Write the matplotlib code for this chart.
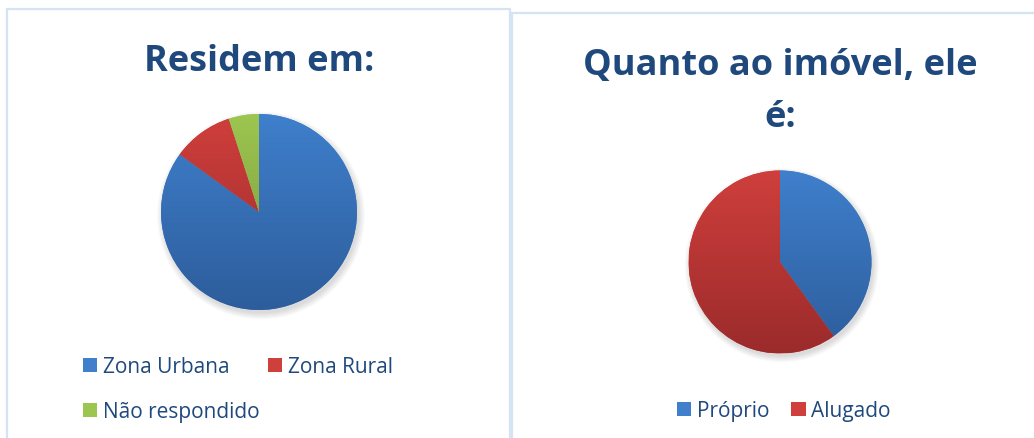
import numpy as np
import matplotlib
matplotlib.use("Agg")
import matplotlib.pyplot as plt
from matplotlib.patches import Rectangle, Circle, Patch
from matplotlib.colors import LinearSegmentedColormap

plt.rcParams['font.family'] = 'Open Sans'

# dados
residencia_labels = ['Zona Urbana', 'Zona Rural', 'Não respondido']
residencia_valores = [85, 10, 5]

imovel_labels = ['Próprio', 'Alugado']
imovel_valores = [40, 60]

# cores (topo, base) do degradê estilo Excel
azul = ('#3F7FCC', '#2D5D9B')
vermelho = ('#CF3F3C', '#9B2B2B')
verde = ('#9DC650', '#76933B')

cor_titulo = '#1F497D'
cor_borda = '#D6E3F4'

W, H = 1034, 439
fig = plt.figure(figsize=(W / 100, H / 100), dpi=100)
fig.patch.set_facecolor('white')


def fx(x):
    return x / W


def fy(y):
    return 1 - y / H


# molduras dos dois gráficos
fig.add_artist(Rectangle((fx(7), fy(445)), fx(510 - 7), (445 - 10) / H,
                         transform=fig.transFigure, fill=False,
                         edgecolor=cor_borda, linewidth=1.6))
fig.add_artist(Rectangle((fx(512), fy(445)), fx(1045 - 512), (445 - 14) / H,
                         transform=fig.transFigure, fill=False,
                         edgecolor=cor_borda, linewidth=1.6))


def pizza(cx, cy, r, valores, cores):
    m = 1.12
    ax = fig.add_axes([fx(cx - r * m), fy(cy + r * m), 2 * r * m / W, 2 * r * m / H])
    # sombra suave
    for i in range(6):
        ax.add_patch(Circle((0.02, -0.035), 1.0 + 0.012 * i, color='black',
                            alpha=0.025, linewidth=0, zorder=0))
    wedges, _ = ax.pie(valores, colors=[c[0] for c in cores], startangle=90,
                       counterclock=False, radius=1,
                       wedgeprops=dict(linewidth=0))
    grad = np.linspace(0, 1, 256).reshape(-1, 1)
    for w, c in zip(wedges, cores):
        cmap = LinearSegmentedColormap.from_list('g', [c[0], c[1]])
        im = ax.imshow(grad, extent=(-1, 1, -1, 1), cmap=cmap, origin='upper',
                       aspect='auto', zorder=w.get_zorder() + 0.1)
        im.set_clip_path(w)
    ax.set_xlim(-m, m)
    ax.set_ylim(-m, m)
    ax.axis('off')
    return ax


cores_res = [azul, vermelho, verde]
ax1 = pizza(259, 213, 98, residencia_valores, cores_res)
cores_imo = [azul, vermelho]
ax2 = pizza(780, 263, 91.5, imovel_valores, cores_imo)

# títulos
fig.text(fx(259), fy(71), 'Residem em:', ha='center', va='baseline',
         fontsize=26, fontweight='bold', color=cor_titulo)
fig.text(fx(780), fy(75), 'Quanto ao imóvel, ele', ha='center', va='baseline',
         fontsize=26, fontweight='bold', color=cor_titulo)
fig.text(fx(780), fy(127), 'é:', ha='center', va='baseline',
         fontsize=26, fontweight='bold', color=cor_titulo)

# legendas
h_res = [Patch(facecolor=c[0], edgecolor='none') for c in cores_res]
ordem = [0, 2, 1]
leg1 = fig.legend([h_res[i] for i in ordem], [residencia_labels[i] for i in ordem],
                  ncol=2, loc='upper left', bbox_to_anchor=(fx(83), fy(357)),
                  frameon=False, fontsize=15, handlelength=0.68, handleheight=0.68,
                  handletextpad=0.28, columnspacing=0.4, labelspacing=1.15,
                  borderpad=0, borderaxespad=0, labelcolor=cor_titulo)

h_imo = [Patch(facecolor=c[0], edgecolor='none') for c in cores_imo]
leg2 = fig.legend(h_imo, imovel_labels, ncol=2, loc='upper left',
                  bbox_to_anchor=(fx(677), fy(401)), frameon=False, fontsize=15,
                  handlelength=0.68, handleheight=0.68, handletextpad=0.28,
                  columnspacing=1.05, borderpad=0, borderaxespad=0,
                  labelcolor=cor_titulo)

fig.savefig('out.png', dpi=100, facecolor='white')
